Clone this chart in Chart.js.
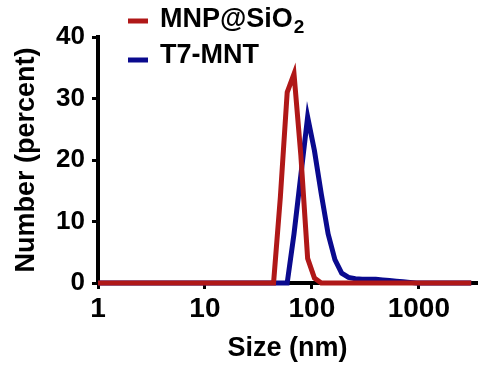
<!DOCTYPE html>
<html>
<head>
<meta charset="utf-8">
<script src="https://cdn.jsdelivr.net/npm/chart.js@4.4.0/dist/chart.umd.min.js"></script>
<style>
  html, body { margin: 0; padding: 0; background: #fff; }
  #wrap { width: 481px; height: 372px; }
</style>
</head>
<body>
<div id="wrap"><canvas id="chart" width="481" height="372"></canvas></div>
<script>
// size bins (nm)
const sizes = [1, 43.82, 50.75, 58.77, 68.06, 78.82, 91.28, 105.7, 122.4, 141.8, 164.2, 190.1, 220.2, 255.0, 295.3, 342.0, 396.1, 458.7, 531.2, 615.1, 712.4, 825.0, 955.4, 1106, 3091];
// number (percent) per bin
const mnpSio2 = [0, 0, 14, 31, 34, 20.8, 4, 0.8, 0, 0, 0, 0, 0, 0, 0, 0, 0, 0, 0, 0, 0, 0, 0, 0, 0];
const t7Mnt   = [0, 0, 0, 0, 8, 17.5, 27, 21.5, 14.5, 8, 3.8, 1.6, 0.9, 0.7, 0.6, 0.6, 0.6, 0.5, 0.4, 0.3, 0.2, 0.1, 0, 0, 0];

const seriesNames = ['MNP@SiO₂', 'T7-MNT'];
const seriesColors = ['#B01818', '#0A0A8E'];
const xTicks = [1, 10, 100, 1000];
const yTicks = [0, 10, 20, 30, 40];

const FONT = '"Liberation Sans", Arial, sans-serif';

function toPoints(vals) {
	return sizes.map((s, i) => ({ x: s, y: vals[i] }));
}

// draws text, turning unicode subscript digits into small lowered digits
function drawLabel(ctx, text, x, y) {
	const subs = '₀₁₂₃₄₅₆₇₈₉';
	for (const ch of text) {
		const i = subs.indexOf(ch);
		if (i >= 0) {
			ctx.font = 'bold 19px ' + FONT;
			ctx.fillText(String(i), x + 1, y + 6);
			x += ctx.measureText(String(i)).width;
		} else {
			ctx.font = 'bold 27px ' + FONT;
			ctx.fillText(ch, x, y);
			x += ctx.measureText(ch).width;
		}
	}
}

/*
 * legend in the top-left corner, drawn over the plot
 */
const cornerLegend = {
	id: 'cornerLegend',
	afterDraw(chart) {
		const ctx = chart.ctx;
		const rows = [ { lineY: 21, textY: 27 }, { lineY: 60, textY: 63 } ];
		ctx.save();
		chart.data.datasets.forEach((ds, i) => {
			const r = rows[i];
			ctx.strokeStyle = ds.borderColor;
			ctx.lineWidth = 5;
			ctx.beginPath();
			ctx.moveTo(128, r.lineY);
			ctx.lineTo(148, r.lineY);
			ctx.stroke();
			ctx.fillStyle = '#000';
			ctx.textBaseline = 'alphabetic';
			ctx.textAlign = 'left';
			drawLabel(ctx, ds.label, 160, r.textY);
		});
		ctx.restore();
	}
};

const datasets = [mnpSio2, t7Mnt].map((vals, i) => ({
	label: seriesNames[i],
	data: toPoints(vals),
	borderColor: seriesColors[i],
	backgroundColor: seriesColors[i],
	borderWidth: 5,
	borderJoinStyle: 'miter',
	pointRadius: 0,
	tension: 0,
	fill: false,
	clip: false
}));

new Chart(document.getElementById('chart'), {
	type: 'line',
	data: { datasets: datasets },
	plugins: [cornerLegend],
	options: {
		responsive: false,
		animation: false,
		devicePixelRatio: 1,
		layout: { padding: { top: 37, right: 4, left: 0, bottom: 0 } },
		plugins: {
			legend: { display: false },
			tooltip: { enabled: false }
		},
		scales: {
			x: {
				type: 'logarithmic',
				min: 1,
				max: 3500,
				afterBuildTicks: scale => { scale.ticks = xTicks.map(v => ({ value: v })); },
				afterFit: scale => { scale.height = 89; },
				ticks: {
					autoSkip: false,
					maxRotation: 0,
					padding: 3,
					color: '#000',
					font: { family: FONT, size: 28, weight: 'bold' },
					callback: v => String(v)
				},
				grid: { display: true, drawOnChartArea: false, drawTicks: true, tickLength: 6, tickWidth: 3, tickColor: '#000' },
				border: { display: true, color: '#000', width: 4 },
				title: {
					display: true,
					text: 'Size (nm)',
					color: '#000',
					font: { family: FONT, size: 27, weight: 'bold' },
					padding: { top: 0, bottom: 7 }
				}
			},
			y: {
				min: 0,
				max: 40,
				afterBuildTicks: scale => { scale.ticks = yTicks.map(v => ({ value: v })); },
				afterFit: scale => { scale.width = 98; },
				ticks: {
					padding: 7,
					color: '#000',
					font: { family: FONT, size: 26, weight: 'bold' }
				},
				grid: { display: true, drawOnChartArea: false, drawTicks: true, tickLength: 6, tickWidth: 3, tickColor: '#000' },
				border: { display: true, color: '#000', width: 4 },
				title: {
					display: true,
					text: 'Number (percent)',
					color: '#000',
					font: { family: FONT, size: 27, weight: 'bold' },
					padding: { top: 10, bottom: 0 }
				}
			}
		}
	}
});
</script>
</body>
</html>
